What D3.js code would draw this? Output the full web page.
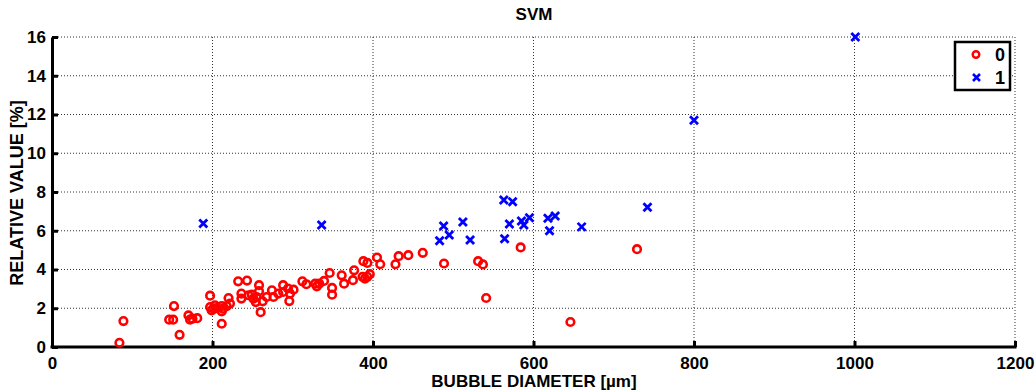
<!DOCTYPE html>
<html>
<head>
<meta charset="utf-8">
<script src="https://cdn.jsdelivr.net/npm/d3@7"></script>
<style>
  body { margin: 0; background: #fff; }
  svg text { font-family: "Liberation Sans", Arial, sans-serif; font-weight: bold; fill: #000; }
</style>
</head>
<body>
<div id="chart"></div>
<script>
// class 0 (red circles)
const class0X = [84, 89, 146, 151, 152, 159, 170, 172, 175, 181, 197, 197, 201, 199, 205, 203,
  211.5, 213, 217.7, 221.8, 211.5, 211.5, 220, 232, 243, 236, 236, 245, 249, 251, 255, 254,
  258, 258, 260, 262.5, 267.5, 274, 276, 282, 288, 288, 294, 296.6, 295.7, 301, 312, 317,
  328, 330, 333, 339, 346, 349, 349, 361, 364, 375, 376.5, 387, 390, 393, 388, 393, 396,
  405, 409, 428, 432, 444, 462, 488.5, 531, 537, 541, 584, 646, 729];
const class0Y = [0.22, 1.34, 1.41, 1.41, 2.11, 0.63, 1.63, 1.41, 1.46, 1.49, 2.65, 2.06, 1.98, 1.89, 2.01, 2.15,
  2.11, 1.98, 2.11, 2.24, 1.84, 1.2, 2.53, 3.39, 3.43, 2.76, 2.5, 2.67, 2.7, 2.5, 2.58, 2.32,
  3.19, 2.88, 1.8, 2.36, 2.58, 2.93, 2.58, 2.76, 3.19, 2.84, 3.02, 2.76, 2.37, 2.96, 3.39, 3.24,
  3.27, 3.13, 3.27, 3.41, 3.82, 3.05, 2.7, 3.7, 3.27, 3.45, 3.96, 3.62, 3.53, 3.62, 4.43, 4.34, 3.76,
  4.62, 4.27, 4.27, 4.69, 4.74, 4.86, 4.31, 4.43, 4.26, 2.53, 5.14, 1.29, 5.05];

// class 1 (blue crosses)
const class1X = [188.5, 336, 483, 488, 495, 512, 521, 563, 574, 564, 570, 585, 588, 595, 618, 627, 620, 660, 742, 800, 1001];
const class1Y = [6.38, 6.3, 5.48, 6.24, 5.78, 6.45, 5.52, 7.59, 7.5, 5.59, 6.35, 6.5, 6.3, 6.67, 6.64, 6.76, 6.0, 6.2, 7.21, 11.7, 16.0];

const xTicks = [0, 200, 400, 600, 800, 1000, 1200];
const yTicks = [0, 2, 4, 6, 8, 10, 12, 14, 16];
const legendLabels = ["0", "1"];

const width = 1036, height = 391;
const margin = { left: 52, right: 21, top: 37, bottom: 44 };

const svg = d3.select("#chart").append("svg")
  .attr("width", width)
  .attr("height", height);

const x = d3.scaleLinear().domain([0, 1200]).range([margin.left, width - margin.right]);
const y = d3.scaleLinear().domain([0, 16]).range([height - margin.bottom, margin.top]);

// dotted grid
svg.append("g").selectAll("line")
  .data(xTicks.slice(1))
  .join("line")
  .attr("x1", d => x(d)).attr("x2", d => x(d))
  .attr("y1", y(0)).attr("y2", y(16))
  .attr("stroke", "#333").attr("stroke-width", 1).attr("stroke-dasharray", "1,2");

svg.append("g").selectAll("line")
  .data(yTicks.slice(1))
  .join("line")
  .attr("x1", x(0)).attr("x2", x(1200))
  .attr("y1", d => y(d)).attr("y2", d => y(d))
  .attr("stroke", "#333").attr("stroke-width", 1).attr("stroke-dasharray", "1,2");

// axes
const xAxis = svg.append("g")
  .attr("transform", `translate(0,${y(0)})`)
  .call(d3.axisBottom(x).tickValues(xTicks).tickFormat(d3.format("d"))
    .tickSize(-6).tickPadding(10).tickSizeOuter(0));
const yAxis = svg.append("g")
  .attr("transform", `translate(${x(0)},0)`)
  .call(d3.axisLeft(y).tickValues(yTicks).tickFormat(d3.format("d"))
    .tickSize(-6).tickPadding(6).tickSizeOuter(0));

[xAxis, yAxis].forEach(a => {
  a.attr("font-family", null).attr("font-size", null);
  a.select(".domain").attr("stroke", "#000").attr("stroke-width", 3);
  a.selectAll(".tick line").attr("stroke", "#000").attr("stroke-width", 3);
  a.selectAll(".tick text").attr("font-size", 17).attr("fill", "#000");
});
xAxis.select(".domain").attr("d", `M${x(0) - 1.5},0H${x(1200) + 1.5}`);

// class 0 points
svg.append("g").selectAll("circle")
  .data(class0X.map((d, i) => [d, class0Y[i]]))
  .join("circle")
  .attr("cx", d => x(d[0]))
  .attr("cy", d => y(d[1]))
  .attr("r", 3.8)
  .attr("fill", "none")
  .attr("stroke", "#ff0000")
  .attr("stroke-width", 2.6);

// class 1 points
svg.append("g").selectAll("path")
  .data(class1X.map((d, i) => [d, class1Y[i]]))
  .join("path")
  .attr("transform", d => `translate(${x(d[0])},${y(d[1])})`)
  .attr("d", "M-4,-4L4,4M-4,4L4,-4")
  .attr("fill", "none")
  .attr("stroke", "#0000ff")
  .attr("stroke-width", 2.8);

// title and labels
svg.append("text")
  .attr("x", 534).attr("y", 20)
  .attr("text-anchor", "middle")
  .attr("font-size", 17)
  .text("SVM");

svg.append("text")
  .attr("x", 534).attr("y", 387)
  .attr("text-anchor", "middle")
  .attr("font-size", 17)
  .text("BUBBLE DIAMETER [µm]");

svg.append("text")
  .attr("transform", "translate(23,193) rotate(-90)")
  .attr("text-anchor", "middle")
  .attr("font-size", 18)
  .text("RELATIVE VALUE [%]");

// legend
const legend = svg.append("g");
legend.append("rect")
  .attr("x", 955).attr("y", 42).attr("width", 55).attr("height", 48)
  .attr("fill", "#fff").attr("stroke", "#000").attr("stroke-width", 2.5);
legend.append("circle")
  .attr("cx", 976).attr("cy", 54.5).attr("r", 3.3)
  .attr("fill", "none").attr("stroke", "#ff0000").attr("stroke-width", 2.4);
legend.append("path")
  .attr("transform", "translate(976.5,77.5)")
  .attr("d", "M-3.5,-3.5L3.5,3.5M-3.5,3.5L3.5,-3.5")
  .attr("stroke", "#0000ff").attr("stroke-width", 2.6);
legend.selectAll("text")
  .data(legendLabels)
  .join("text")
  .attr("x", 1000).attr("y", (d, i) => 60.5 + i * 23)
  .attr("text-anchor", "middle")
  .attr("font-size", 18)
  .text(d => d);
</script>
</body>
</html>
